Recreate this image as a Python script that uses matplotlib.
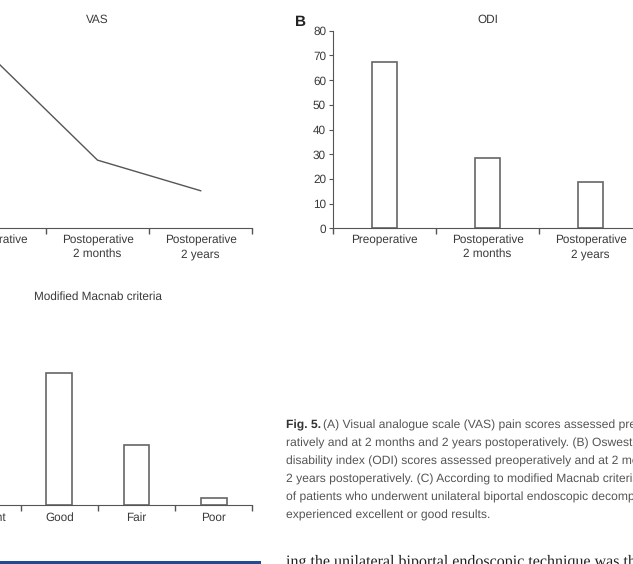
import numpy as np
import matplotlib.pyplot as plt

# data
periods = ['Preoperative', 'Postoperative\n2 months', 'Postoperative\n2 years']
vas = [8.55, 3.45, 1.9]
odi = [67.3, 28.3, 18.8]
macnab_cat = ['Excellent', 'Good', 'Fair', 'Poor']
macnab = [43.4, 37.6, 17.1, 1.9]

caption = [
    "(A) Visual analogue scale (VAS) pain scores assessed preoperatively",
    "ratively and at 2 months and 2 years postoperatively. (B) Oswestry",
    "disability index (ODI) scores assessed preoperatively and at 2 months and",
    "2 years postoperatively. (C) According to modified Macnab criteria, 81%",
    "of patients who underwent unilateral biportal endoscopic decompression",
    "experienced excellent or good results.",
]
body = "ing the unilateral biportal endoscopic technique was the"

W, H = 633, 564
plt.rcParams['text.hinting'] = 'no_hinting'
fig = plt.figure(figsize=(W / 100, H / 100), dpi=100)
plt.rcParams['font.family'] = ['Liberation Sans', 'DejaVu Sans']

txt = '#3a3a3a'
ln = '#555555'
fs = 8.5


def px_axes(x0, x1, ytop, ybot):
    return fig.add_axes([x0 / W, 1 - ybot / H, (x1 - x0) / W, (ybot - ytop) / H])


def style(ax, labels, show_y=False):
    n = len(labels)
    ax.set_xlim(-0.5, n - 0.5)
    ax.set_xticks(np.arange(n + 1) - 0.5)
    ax.set_xticklabels([])
    ax.set_xticks(np.arange(n), minor=True)
    ax.set_xticklabels(labels, minor=True, fontsize=fs, color=txt, linespacing=1.25)
    ax.tick_params(axis='x', which='major', length=4, width=1, color=ln)
    ax.tick_params(axis='x', which='minor', length=0, pad=5)
    for s in ['top', 'right']:
        ax.spines[s].set_visible(False)
    ax.spines['bottom'].set_color(ln)
    ax.spines['left'].set_color(ln)
    if show_y:
        ax.tick_params(axis='y', length=3, color=ln, labelsize=fs, labelcolor=txt, pad=2)
    else:
        ax.spines['left'].set_visible(False)
        ax.set_yticks([])


# A: VAS line
ax1 = px_axes(-57.3, 252.3, 30.7, 228.3)
ax1.plot(np.arange(3), vas, color=ln, lw=1.0)
ax1.set_ylim(0, 10)
style(ax1, periods)
fig.text(97.5 / W, 1 - 20 / H, 'VAS', ha='center', va='center', fontsize=fs, color=txt)

# B: ODI bars
ax2 = px_axes(333, 642, 30.7, 228.3)
ax2.bar(np.arange(3), odi, width=0.25, facecolor='white', edgecolor='#666666', lw=1.2)
ax2.set_ylim(0, 80)
ax2.set_yticks(range(0, 81, 10))
style(ax2, periods, show_y=True)
fig.text(487.5 / W, 1 - 20 / H, 'ODI', ha='center', va='center', fontsize=fs, color=txt)
fig.text(300 / W, 1 - 22 / H, 'B', ha='center', va='center', fontsize=11, fontweight='bold', color='#222222')

# C: Macnab bars
ax3 = px_axes(-56.5, 252.3, 308, 505)
ax3.bar(np.arange(4), macnab, width=0.333, facecolor='white', edgecolor='#666666', lw=1.2)
ax3.set_ylim(0, 56)
style(ax3, macnab_cat)
fig.text(98 / W, 1 - 296.7 / H, 'Modified Macnab criteria', ha='center', va='center', fontsize=fs, color=txt)

# caption
cfs = 8.7
y0 = 425
fig.text(286 / W, 1 - y0 / H, 'Fig. 5.', ha='left', va='center', fontsize=cfs,
         fontweight='bold', color='#333333')
for i, line in enumerate(caption):
    x = 323 if i == 0 else 286
    fig.text(x / W, 1 - (y0 + 18 * i) / H, line, ha='left', va='center', fontsize=cfs,
             color='#555555')

fig.text(286 / W, 1 - 566 / H, body, ha='left', va='baseline', fontsize=11.5,
         color='#222222', family=['Liberation Serif', 'DejaVu Serif'])

# blue rule
fig.patches.append(plt.Rectangle((0, 0), 261 / W, 3 / H, transform=fig.transFigure,
                                 facecolor='#1f4a94', edgecolor='none'))

fig.savefig('out.png', dpi=100)
